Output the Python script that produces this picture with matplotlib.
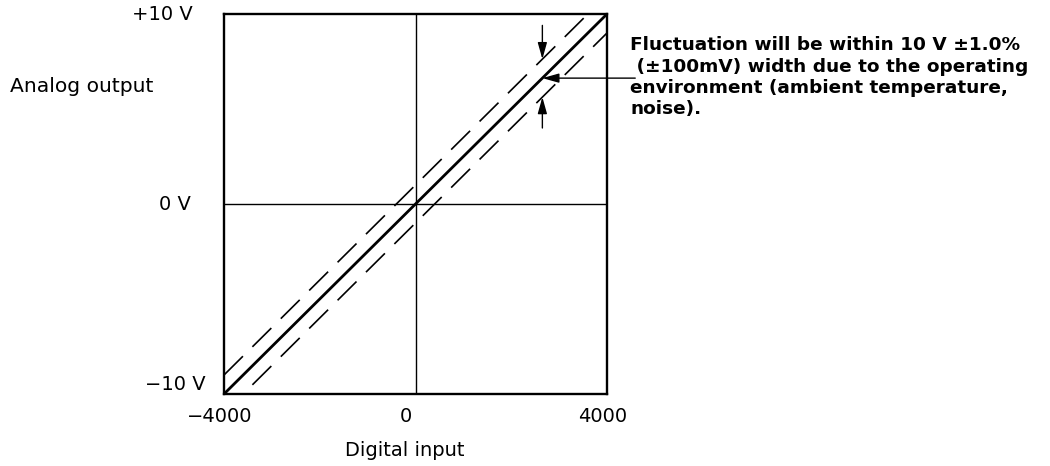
"""
Analog output vs digital input characteristic
"""

import numpy as np
import matplotlib.pyplot as plt
import matplotlib.transforms as mtransforms

# digital input range and corresponding analog output
digital_in = [-4000, 4000]
analog_out = [-10, 10]
# fluctuation band drawn around the ideal line (illustration width, V)
band = 1.0

y_ticks = [10, 0, -10]
y_labels = ["+10 V", "0 V", "\u221210 V"]
x_ticks = [-4000, 0, 4000]
x_labels = ["\u22124000", "0", "4000"]

# annotation: dimension arrows at this digital value
note_x = 2650
note_lines = ["Fluctuation will be within 10 V \u00b11.0%",
              " (\u00b1100mV) width due to the operating",
              "environment (ambient temperature,",
              "noise)."]

plt.rcParams['font.family'] = ['DejaVu Sans']

fig = plt.figure(figsize=(10.5, 4.66), dpi=100)
ax = fig.add_axes([224 / 1050, 1 - 394 / 466, 383 / 1050, 380 / 466])
ax.set_xlim(digital_in)
ax.set_ylim(analog_out)

for s in ax.spines.values():
    s.set_linewidth(1.7)

# crosshair at zero
ax.axhline(0, color='black', lw=1.0)
ax.axvline(0, color='black', lw=1.0)

x = np.array(digital_in, dtype=float)
y = np.array(analog_out, dtype=float)
ax.plot(x, y, color='black', lw=2.0, solid_capstyle='butt')
dash = (0, (16, 8))
ax.plot(x, y + band, color='black', lw=1.2, linestyle=dash)
ax.plot(x, y - band, color='black', lw=1.2, linestyle=dash)

# ticks as text
ax.set_xticks([])
ax.set_yticks([])
fs = 14
ybl = mtransforms.blended_transform_factory(ax.transAxes, ax.transData)
y_off = {"+10 V": (-31, 0), "0 V": (-33, 0), "\u221210 V": (-18, 9)}
for v, lab in zip(y_ticks, y_labels):
    dx, dy = y_off[lab]
    tr = ybl + mtransforms.ScaledTranslation(dx / 100, dy / 100, fig.dpi_scale_trans)
    ax.text(0, v, lab, transform=tr, ha='right', va='center', fontsize=fs)

xbl = mtransforms.blended_transform_factory(ax.transData, ax.transAxes)
x_off = {"\u22124000": -4, "0": -10, "4000": -4}
for v, lab in zip(x_ticks, x_labels):
    tr = xbl + mtransforms.ScaledTranslation(x_off[lab] / 100, -23 / 100, fig.dpi_scale_trans)
    ax.text(v, 0, lab, transform=tr, ha='center', va='center', fontsize=fs)

fig.text(405 / 1050, 1 - 450 / 466, "Digital input", ha='center', va='center', fontsize=fs)
fig.text(10 / 1050, 1 - 87 / 466, "Analog output", ha='left', va='center', fontsize=14.6)

# dimension arrows
slope = (analog_out[1] - analog_out[0]) / (digital_in[1] - digital_in[0])
y_mid = analog_out[0] + slope * (note_x - digital_in[0])
aprops = dict(arrowstyle='-|>,head_length=1.0,head_width=0.28', color='black', lw=1.0,
              shrinkA=0, shrinkB=0)
ax.annotate('', xy=(note_x, y_mid + band), xytext=(note_x, 9.4), arrowprops=aprops,
            annotation_clip=False)
ax.annotate('', xy=(note_x, y_mid - band), xytext=(note_x, 4.0), arrowprops=aprops,
            annotation_clip=False)
ax.annotate('', xy=(note_x, y_mid), xytext=(4590, y_mid), arrowprops=aprops,
            annotation_clip=False)

line_y = [45, 67, 88, 109]
for ly, txt in zip(line_y, note_lines):
    fig.text(630 / 1050, 1 - ly / 466, txt, ha='left', va='center', fontsize=13.3,
             fontweight='bold')

fig.savefig("out.png", dpi=100)
